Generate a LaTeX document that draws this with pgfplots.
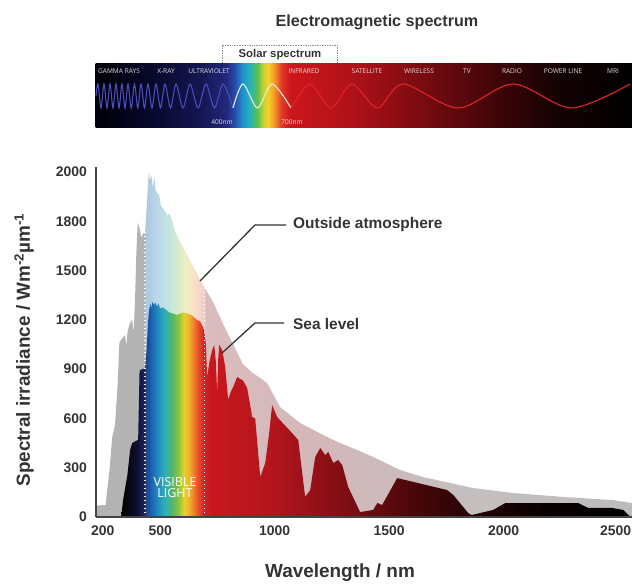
\documentclass[border=0pt]{standalone}
\usepackage{pgfplots}
\pgfplotsset{compat=1.18}
\usepackage{fontspec}
\setmainfont{Liberation Sans}
\newfontfamily\opensans{Open Sans}

\definecolor{txt}{HTML}{333333}
\definecolor{axln}{HTML}{444444}

% outside atmosphere colours
\definecolor{o1}{HTML}{B3B3B3}
\definecolor{o2}{HTML}{ABC8E3}
\definecolor{o3}{HTML}{B9D5E7}
\definecolor{o4}{HTML}{C0E3E3}
\definecolor{o5}{HTML}{D2EBCF}
\definecolor{o6}{HTML}{EFF0C2}
\definecolor{o7}{HTML}{F9E0C6}
\definecolor{o8}{HTML}{F3CDCC}
\definecolor{o9}{HTML}{DBBCBD}
\definecolor{o10}{HTML}{D3B7B9}
\definecolor{o11}{HTML}{C6BEBF}
\definecolor{o12}{HTML}{BCBCBC}
% sea level colours
\definecolor{s1}{HTML}{000000}
\definecolor{s2}{HTML}{0F1030}
\definecolor{s3}{HTML}{1E2462}
\definecolor{s4}{HTML}{1C3F8C}
\definecolor{s5}{HTML}{1C5AA8}
\definecolor{s6}{HTML}{1F86C0}
\definecolor{s7}{HTML}{2EB0B8}
\definecolor{s8}{HTML}{4FB56E}
\definecolor{s9}{HTML}{8CC43C}
\definecolor{s10}{HTML}{E8D22E}
\definecolor{s11}{HTML}{F5A82A}
\definecolor{s12}{HTML}{EC5A2A}
\definecolor{s13}{HTML}{D42228}
\definecolor{s14}{HTML}{C8171E}
\definecolor{s15}{HTML}{B3151D}
\definecolor{s16}{HTML}{7E0E13}
\definecolor{s17}{HTML}{4A070A}
\definecolor{s18}{HTML}{200304}
\definecolor{s19}{HTML}{080000}
% banner colours
\definecolor{b1}{HTML}{000008}
\definecolor{b2}{HTML}{08082A}
\definecolor{b3}{HTML}{141650}
\definecolor{b4}{HTML}{22287A}
\definecolor{b5}{HTML}{2A4AA8}
\definecolor{b6}{HTML}{1F8FD0}
\definecolor{b7}{HTML}{2BB5B0}
\definecolor{b8}{HTML}{5BBF50}
\definecolor{b9}{HTML}{C8D232}
\definecolor{b10}{HTML}{F6D02A}
\definecolor{b11}{HTML}{F59528}
\definecolor{b12}{HTML}{E23A2A}
\definecolor{b13}{HTML}{CC161C}
\definecolor{b14}{HTML}{B01219}
\definecolor{b15}{HTML}{7A0B10}
\definecolor{b16}{HTML}{3C0508}
\definecolor{b17}{HTML}{120202}
\definecolor{wblue}{HTML}{4A4CB8}
\definecolor{wpale}{HTML}{E4F0DA}
\definecolor{wred}{HTML}{E0242A}

% stops: 25bp..75bp = left..right of the filled path
\pgfdeclarehorizontalshading{outside}{100bp}{color(0bp)=(o1); color(25bp)=(o1);
  color(29.55bp)=(o1); color(29.6bp)=(o2); color(30.56bp)=(o3); color(31.62bp)=(o4);
  color(32.48bp)=(o5); color(33.33bp)=(o6); color(34.19bp)=(o7); color(35.04bp)=(o8);
  color(35.26bp)=(o9); color(45.94bp)=(o10); color(58bp)=(o11); color(75bp)=(o12);
  color(100bp)=(o12)}
\pgfdeclarehorizontalshading{sea}{100bp}{color(0bp)=(s1); color(25bp)=(s1);
  color(26.57bp)=(s2); color(27.29bp)=(s3); color(27.35bp)=(s4); color(27.8bp)=(s5);
  color(28.48bp)=(s6); color(29.26bp)=(s7); color(29.93bp)=(s8); color(30.61bp)=(s9);
  color(31.17bp)=(s10); color(31.73bp)=(s11); color(32.4bp)=(s12); color(33.07bp)=(s13);
  color(33.74bp)=(s14); color(40.02bp)=(s15); color(46.75bp)=(s16); color(53.48bp)=(s17);
  color(60.2bp)=(s18); color(66.93bp)=(s19); color(75bp)=(s1); color(100bp)=(s1)}
\pgfdeclarehorizontalshading{banner}{100bp}{color(0bp)=(b1); color(25bp)=(b1);
  color(30.12bp)=(b2); color(34.78bp)=(b3); color(37.2bp)=(b4); color(37.94bp)=(b5);
  color(38.69bp)=(b6); color(39.43bp)=(b7); color(40.08bp)=(b8); color(40.64bp)=(b9);
  color(41.11bp)=(b10); color(41.67bp)=(b11); color(42.32bp)=(b12); color(43.16bp)=(b13);
  color(48.74bp)=(b14); color(55.26bp)=(b15); color(62.71bp)=(b16); color(68.3bp)=(b17);
  color(75bp)=(s1); color(100bp)=(s1)}

\begin{document}
\begin{tikzpicture}
\useasboundingbox (0bp,0bp) rectangle (632bp,-585bp);

% ---- banner (pixel coordinates) ----
\begin{scope}[x=1bp,y=1bp]
\node[font=\fontsize{16.2}{18}\selectfont\bfseries, text=txt] at (377,-22) {Electromagnetic spectrum};
\draw[black!45, densely dotted, line width=0.7bp] (222,-64) -- (222,-45) -- (337,-45) -- (337,-64);
\node[font=\fontsize{11.4}{13}\selectfont\bfseries, text=txt] at (280,-54.5) {Solar spectrum};
\fill[shading=banner, shade] (95.5,-63.5) rectangle (632,-127.5);
\end{scope}

\begin{axis}[scale only axis, width=632bp, height=585bp, at={(0bp,-585bp)}, anchor=south west,
  xmin=0, xmax=632, ymin=-585, ymax=0, hide axis, clip=false]
  \addplot[wblue, line width=1.1bp, smooth] coordinates {
    (96,-96) (98,-84) (101,-108) (104,-84) (107,-108) (110,-84) (113,-108) (116,-84)
    (119,-108) (122,-84) (125,-108) (128,-84) (131.2,-108) (134.5,-84) (137.8,-108)
    (141,-84) (144.5,-108) (148,-84) (152,-108) (156,-84) (160.5,-108) (165,-84)
    (170.5,-108) (176,-84) (183,-108) (190,-84) (198,-108) (206,-84) (214.5,-108)
    (223,-84) (233,-108)};
  \addplot[wpale, line width=1.1bp, smooth] coordinates {
    (233,-108) (243,-84) (257.5,-108) (272,-84) (291,-108)};
  \addplot[wred, line width=1.1bp, smooth] coordinates {
    (291,-108) (310,-84) (331,-108) (352,-84) (377.5,-108) (403,-84) (458,-108)
    (513,-84) (571.5,-108) (630,-84)};
\end{axis}

\begin{scope}[x=1bp,y=1bp, font=\opensans\fontsize{6.6}{8}\selectfont, text=white!88!black]
\node at (119,-71) {GAMMA RAYS};
\node at (166,-71) {X-RAY};
\node at (209,-71) {ULTRAVIOLET};
\node at (304,-71) {INFRARED};
\node at (367,-71) {SATELLITE};
\node at (419,-71) {WIRELESS};
\node at (467,-71) {TV};
\node at (512,-71) {RADIO};
\node at (563,-71) {POWER LINE};
\node at (613,-71) {MRI};
\node at (222,-122) {400nm};
\node at (292,-122) {700nm};
\end{scope}

% ---- main chart ----
\begin{axis}[
  scale only axis, width=536bp, height=350bp,
  at={(96bp,-517bp)}, anchor=south west,
  xmin=220, xmax=2560, ymin=0, ymax=2130,
  axis lines*=left,
  axis line style={draw=axln, line width=1.3bp},
  axis on top,
  xtick={250,500,1000,1500,2000,2488},
  xticklabels={200,500,1000,1500,2000,2500},
  ytick={0,300,600,900,1200,1500,1800,2100},
  yticklabels={0,300,600,900,1200,1500,1800,2000},
  major tick length=0pt,
  ticklabel style={font=\fontsize{14}{16}\selectfont\bfseries, text=txt, inner sep=0pt},
  yticklabel style={xshift=-9bp},
  xticklabel style={yshift=-9bp},
]
  % outside atmosphere
  \addplot[draw=none, shading=outside, shade] coordinates {
    (220,0) (222,70) (262,73) (268,150) (280,300) (290,480) (303,560) (315,820)
    (322,1060) (330,1080) (347,1107) (352,1040) (358,1130) (368,1180) (378,1200)
    (384,1120) (390,1300) (396,1600) (402,1790) (410,1760) (418,1700) (426,1728)
    (434,1720) (442,1900) (450,2099) (456,2050) (462,2080) (468,2000) (474,2081)
    (480,1990) (487,1972) (496,1959) (504,1890) (513,1880) (520,1860) (526,1856)
    (533,1830) (539,1850) (552,1807) (566,1734) (675,1442) (731,1308) (790,1130)
    (862,930) (900,880) (937,846) (967,815) (1024,669) (1111,572) (1229,487)
    (1286,450) (1360,408) (1430,365) (1548,286) (1648,243) (1766,207) (1867,176)
    (2041,146) (2260,122) (2478,103) (2560,85)} \closedcycle;
  % sea level
  \addplot[draw=none, shading=sea, shade] coordinates {
    (330,0) (338,100) (350,200) (356,243) (369,408) (378,450) (404,470) (410,880)
    (413,895) (434,905) (440,1000) (448,1200) (452,1260) (458,1300) (462,1270)
    (467,1310) (474,1290) (480,1305) (486,1280) (492,1300) (500,1270) (513,1275)
    (540,1245) (574,1230) (600,1245) (618,1240) (640,1225) (660,1200) (675,1190)
    (685,1160) (692,1138) (700,1050) (705,852) (716,950) (727,1016) (736,1047)
    (743,950) (749,755) (753,950) (758,1047) (771,1016) (784,913) (797,712)
    (808,760) (819,791) (836,852) (862,830) (880,785) (902,608) (915,600)
    (937,243) (959,329) (975,500) (989,681) (1011,608) (1076,511) (1103,468)
    (1133,122) (1155,164) (1177,365) (1199,420) (1221,377) (1234,396) (1256,329)
    (1277,347) (1295,316) (1321,183) (1373,30) (1430,43) (1448,85) (1469,73)
    (1535,237) (1753,164) (1780,134) (1845,24) (1860,12) (1954,43) (2007,85)
    (2325,85) (2369,55) (2474,55) (2522,43) (2544,12) (2560,0)} \closedcycle;
  % visible light bounds
  \addplot[white, line width=1.4bp, dash pattern=on 1.4bp off 2.6bp] coordinates {(434,0) (434,1740)};
  \addplot[white, line width=1.4bp, dash pattern=on 1.4bp off 2.6bp] coordinates {(694,0) (694,1400)};
\end{axis}

\begin{scope}[x=1bp,y=1bp]
\node[font=\opensans\fontsize{12.5}{14}\selectfont, text=white, align=center] at (175,-487.5)
  {VISIBLE\\[-2.5bp]LIGHT};

% annotations
\draw[txt, line width=1.3bp] (200,-281) -- (255,-225) -- (286,-225);
\node[anchor=west, font=\fontsize{15.5}{17}\selectfont\bfseries, text=txt, inner sep=0pt] at (293,-225) {Outside atmosphere};
\draw[txt, line width=1.3bp] (222,-353) -- (255,-323) -- (284,-323);
\node[anchor=west, font=\fontsize{15.5}{17}\selectfont\bfseries, text=txt, inner sep=0pt] at (293,-324) {Sea level};

% axis titles
\node[rotate=90, font=\fontsize{19}{22}\selectfont\bfseries, text=txt] at (24,-350)
  {Spectral irradiance / Wm\textsuperscript{-2}µm\textsuperscript{-1}};
\node[font=\fontsize{19}{22}\selectfont\bfseries, text=txt] at (340,-573) {Wavelength / nm};
\end{scope}
\end{tikzpicture}
\end{document}
